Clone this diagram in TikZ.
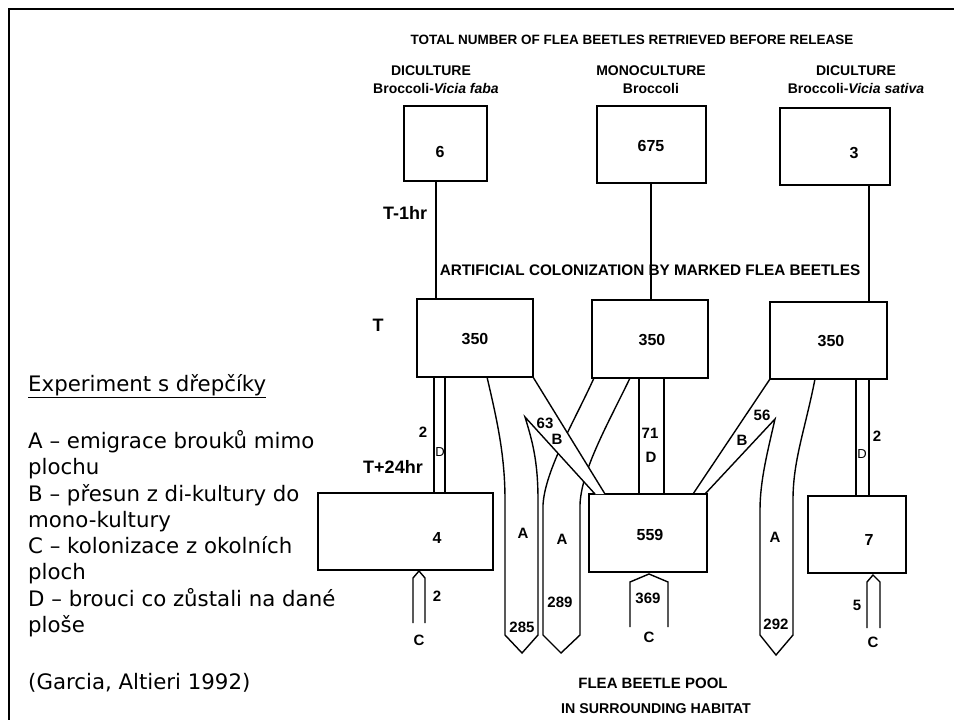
\documentclass[tikz,border=0pt]{standalone}
\usepackage{fontspec}
\setmainfont{Liberation Sans}
\newfontfamily\vd{DejaVu Sans}
\begin{document}
\begin{tikzpicture}[x=1pt,y=-1pt,
  bx/.style={draw, line width=1.4pt, inner sep=0pt, outer sep=0pt},
  ln/.style={line width=1.4pt},
  band/.style={line width=1.4pt, line join=miter},
  num/.style={font=\bfseries\fontsize{16}{16}\selectfont, inner sep=0pt},
  lab/.style={font=\bfseries\fontsize{15}{15}\selectfont, inner sep=0pt},
  tlab/.style={font=\bfseries\fontsize{18}{18}\selectfont, inner sep=0pt},
  head/.style={font=\bfseries\fontsize{14}{14}\selectfont, inner sep=0pt},
  small/.style={font=\fontsize{13}{13}\selectfont, inner sep=0pt},
  txt/.style={font=\vd\fontsize{21.3}{26}\selectfont, inner sep=0pt, anchor=base west},
]
\useasboundingbox (0,0) rectangle (954,720);
% frame
\draw[line width=2.6pt] (9,720) -- (9,9) -- (954,9);

% left text
\node[txt] (exp) at (28,391.5) {\underline{Experiment s dřepčíky}};
\node[txt] (la) at (28,448.5) {A – emigrace brouků mimo};
\node[txt] (la2) at (28,474.5) {plochu};
\node[txt] (lb) at (28,501.5) {B – přesun z di-kultury do};
\node[txt] (lb2) at (28,527.5) {mono-kultury};
\node[txt] (lc) at (28,553.5) {C – kolonizace z okolních};
\node[txt] (lc2) at (28,579.5) {ploch};
\node[txt] (ld) at (28,606.5) {D – brouci co zůstali na dané};
\node[txt] (ld2) at (28,632.5) {ploše};
\node[txt] (cit) at (28,689.5) {(Garcia, Altieri 1992)};

% headings
\node[font=\bfseries\fontsize{13.5}{13.5}\selectfont, inner sep=0pt] (title) at (632,40) {TOTAL NUMBER OF FLEA BEETLES RETRIEVED BEFORE RELEASE};
\node[head] (h1) at (431,71) {DICULTURE};
\node[head] (h1b) at (436,88) {Broccoli-\textit{Vicia faba}};
\node[head] (h2) at (651,71) {MONOCULTURE};
\node[head] (h2b) at (651,88) {Broccoli};
\node[head] (h3) at (856,71) {DICULTURE};
\node[head] (h3b) at (856,88) {Broccoli-\textit{Vicia sativa}};
\node[font=\bfseries\fontsize{15.3}{15.3}\selectfont, inner sep=0pt] (art) at (650,270) {ARTIFICIAL COLONIZATION BY MARKED FLEA BEETLES};
\node[font=\bfseries\fontsize{15}{15}\selectfont, inner sep=0pt] (pool) at (653,683) {FLEA BEETLE POOL};
\node[font=\bfseries\fontsize{14.2}{14.2}\selectfont, inner sep=0pt] (hab) at (656,709) {IN SURROUNDING HABITAT};

% time labels
\node[tlab] (t1hr) at (405,213) {T-1hr};
\node[tlab] (tT) at (378,325) {T};
\node[tlab] (t24) at (393,467) {T+24hr};

% boxes before release
\node[bx, minimum width=83pt, minimum height=75pt] (p1) at (445.5,143.5) {};
\node[bx, minimum width=109pt, minimum height=77pt] (p2) at (651.5,144.5) {};
\node[bx, minimum width=110pt, minimum height=77pt] (p3) at (835,146.5) {};
\node[num] (p1n) at (440,152) {6};
\node[num] (p2n) at (651,146) {675};
\node[num] (p3n) at (854,153) {3};

% boxes at T
\node[bx, minimum width=116pt, minimum height=78pt] (q1) at (475,338) {};
\node[bx, minimum width=116pt, minimum height=78pt] (q2) at (650,339) {};
\node[bx, minimum width=117pt, minimum height=77pt] (q3) at (828.5,340.5) {};
\node[num] (q1n) at (475,339) {350};
\node[num] (q2n) at (652,340) {350};
\node[num] (q3n) at (831,341) {350};

% boxes at T+24hr
\node[bx, minimum width=175pt, minimum height=77pt] (r1) at (405.5,531.5) {};
\node[bx, minimum width=118pt, minimum height=78pt] (r2) at (648,533) {};
\node[bx, minimum width=98pt, minimum height=77pt] (r3) at (857,534.5) {};
\node[num] (r1n) at (437,538) {4};
\node[num] (r2n) at (650,535) {559};
\node[num] (r3n) at (869,540) {7};

% connectors T-1hr -> T
\draw[ln] (436,0 |- p1.south) -- (436,0 |- q1.north);
\draw[ln] (651,0 |- p2.south) -- (651,0 |- q2.north);
\draw[ln] (869,0 |- p3.south) -- (869,0 |- q3.north);

% D bands
\draw[band] (434,0 |- q1.south) -- (434,0 |- r1.north);
\draw[band] (445,0 |- q1.south) -- (445,0 |- r1.north);
\draw[band] (639,0 |- q2.south) -- (639,0 |- r2.north);
\draw[band] (664,0 |- q2.south) -- (664,0 |- r2.north);
\draw[band] (856,0 |- q3.south) -- (856,0 |- r3.north);
\draw[band] (869,0 |- q3.south) -- (869,0 |- r3.north);
\node[lab] (d1n) at (423,432) {2};
\node[small] (d1) at (440,452) {D};
\node[lab] (d2n) at (650,433) {71};
\node[lab] (d2) at (651,457) {D};
\node[lab] (d3n) at (877,436) {2};
\node[small] (d3) at (862,454) {D};

% A band 289 (middle, partly hidden by B)
\draw[band] (594,378) .. controls (575,420) and (545,470) .. (543,505) -- (543,635) -- (561,653) -- (580,635) -- (580,505) .. controls (581,470) and (610,420) .. (630,378);
% B band left (over A 289)
\fill[white] (533,377) -- (605,494) -- (595,494) -- (525,417) -- cycle;
\draw[band] (533,377) -- (605,494);
% A band 285 and B lower edge
\draw[band] (487,377) .. controls (497,420) and (505,455) .. (505,500) -- (505,635) -- (522,653) -- (538,635) -- (538,500) .. controls (538,460) and (532,440) .. (525,417) -- (595,494);
% B band right and A band 292
\draw[band] (770,379) -- (693,494);
\draw[band] (705,494) -- (775,419) .. controls (768,450) and (760,480) .. (760,510) -- (760,635) -- (776,655) -- (793,635) -- (793,500) .. controls (793,460) and (805,430) .. (815,379);

\node[lab] (a1) at (523,533) {A};
\node[lab] (a1n) at (522,627) {285};
\node[lab] (a2) at (562,539) {A};
\node[lab] (a2n) at (560,602) {289};
\node[lab] (a3) at (775,537) {A};
\node[lab] (a3n) at (776,624) {292};
\node[lab] (b1n) at (545,423) {63};
\node[lab] (b1) at (557,439) {B};
\node[lab] (b3n) at (762,415) {56};
\node[lab] (b3) at (742,440) {B};

% C bands
\draw[band] (413,623) -- (413,578) -- (419,571) -- (425,578) -- (425,623);
\draw[band] (630,627) -- (630,582) -- (649,574) -- (668,582) -- (668,627);
\draw[band] (867,628) -- (867,582) -- (873,575) -- (880,582) -- (880,628);
\node[lab] (c1n) at (437,596) {2};
\node[lab] (c1) at (419,640) {C};
\node[lab] (c2n) at (648,598) {369};
\node[lab] (c2) at (649,637) {C};
\node[lab] (c3n) at (857,605) {5};
\node[lab] (c3) at (873,642) {C};
\end{tikzpicture}
\end{document}
